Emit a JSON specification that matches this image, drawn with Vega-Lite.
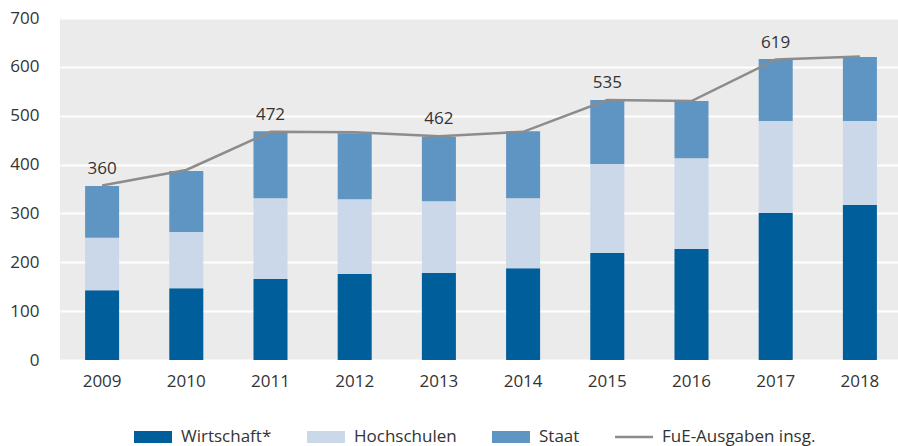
{
  "$schema": "https://vega.github.io/schema/vega-lite/v6.json",
  "width": 842,
  "height": 342,
  "autosize": {"type": "none"},
  "padding": {"left": 60, "top": 18, "right": 0, "bottom": 86},
  "background": "white",
  "config": {
    "view": {"fill": "#EBEBEB", "stroke": null},
    "font": "Open Sans",
    "axis": {"labelFont": "Open Sans", "labelFontSize": 17, "labelColor": "#333333", "domain": false, "ticks": false, "tickSize": 0, "title": null},
    "legend": {"labelFont": "Open Sans", "labelFontSize": 17, "labelColor": "#333333"}
  },
  "datasets": {
    "bars": [
      {"jahr": "2009", "sektor": "Wirtschaft*", "wert": 143},
      {"jahr": "2009", "sektor": "Hochschulen", "wert": 107},
      {"jahr": "2009", "sektor": "Staat", "wert": 106},
      {"jahr": "2010", "sektor": "Wirtschaft*", "wert": 147},
      {"jahr": "2010", "sektor": "Hochschulen", "wert": 115},
      {"jahr": "2010", "sektor": "Staat", "wert": 125},
      {"jahr": "2011", "sektor": "Wirtschaft*", "wert": 166},
      {"jahr": "2011", "sektor": "Hochschulen", "wert": 165},
      {"jahr": "2011", "sektor": "Staat", "wert": 137},
      {"jahr": "2012", "sektor": "Wirtschaft*", "wert": 176},
      {"jahr": "2012", "sektor": "Hochschulen", "wert": 153},
      {"jahr": "2012", "sektor": "Staat", "wert": 135},
      {"jahr": "2013", "sektor": "Wirtschaft*", "wert": 178},
      {"jahr": "2013", "sektor": "Hochschulen", "wert": 147},
      {"jahr": "2013", "sektor": "Staat", "wert": 132},
      {"jahr": "2014", "sektor": "Wirtschaft*", "wert": 188},
      {"jahr": "2014", "sektor": "Hochschulen", "wert": 143},
      {"jahr": "2014", "sektor": "Staat", "wert": 137},
      {"jahr": "2015", "sektor": "Wirtschaft*", "wert": 219},
      {"jahr": "2015", "sektor": "Hochschulen", "wert": 182},
      {"jahr": "2015", "sektor": "Staat", "wert": 131},
      {"jahr": "2016", "sektor": "Wirtschaft*", "wert": 227},
      {"jahr": "2016", "sektor": "Hochschulen", "wert": 186},
      {"jahr": "2016", "sektor": "Staat", "wert": 117},
      {"jahr": "2017", "sektor": "Wirtschaft*", "wert": 301},
      {"jahr": "2017", "sektor": "Hochschulen", "wert": 188},
      {"jahr": "2017", "sektor": "Staat", "wert": 127},
      {"jahr": "2018", "sektor": "Wirtschaft*", "wert": 317},
      {"jahr": "2018", "sektor": "Hochschulen", "wert": 172},
      {"jahr": "2018", "sektor": "Staat", "wert": 131}
    ],
    "total": [
      {"jahr": "2009", "gesamt": 357, "label": "360"},
      {"jahr": "2010", "gesamt": 389, "label": ""},
      {"jahr": "2011", "gesamt": 467, "label": "472"},
      {"jahr": "2012", "gesamt": 466, "label": ""},
      {"jahr": "2013", "gesamt": 458, "label": "462"},
      {"jahr": "2014", "gesamt": 467, "label": ""},
      {"jahr": "2015", "gesamt": 532, "label": "535"},
      {"jahr": "2016", "gesamt": 530, "label": ""},
      {"jahr": "2017", "gesamt": 615, "label": "619"},
      {"jahr": "2018", "gesamt": 621, "label": ""}
    ]
  },
  "encoding": {
    "x": {
      "field": "jahr", "type": "ordinal",
      "scale": {"paddingInner": 0.596, "paddingOuter": 0.298},
      "axis": {"labelAngle": 0, "labelPadding": 13, "grid": false}
    }
  },
  "layer": [
    {
      "data": {"name": "bars"},
      "transform": [{"calculate": "indexof(['Wirtschaft*','Hochschulen','Staat'], datum.sektor)", "as": "rang"}],
      "mark": {"type": "bar", "strokeWidth": 0},
      "encoding": {
        "y": {
          "field": "wert", "type": "quantitative", "stack": "zero",
          "scale": {"domain": [0, 700], "nice": false},
          "axis": {"values": [0, 100, 200, 300, 400, 500, 600, 700], "grid": true, "gridColor": "white", "gridWidth": 2, "labelPadding": 21}
        },
        "color": {
          "field": "sektor", "type": "nominal",
          "scale": {
            "domain": ["Wirtschaft*", "Hochschulen", "Staat", "FuE-Ausgaben insg."],
            "range": ["#005E9A", "#CBD8EA", "#5F95C3", "#8C8C8C"]
          },
          "legend": {
            "title": null,
            "orient": "none",
            "direction": "horizontal",
            "legendX": 74,
            "legendY": 400,
            "columns": 4,
            "columnPadding": 35,
            "padding": 0,
            "symbolSize": 1444,
            "labelOffset": 9,
            "encode": {
              "symbols": {
                "update": {
                  "shape": {"signal": "datum.value === 'FuE-Ausgaben insg.' ? 'M-1,-0.07H1V0.07H-1Z' : 'M-1,-0.316H1V0.316H-1Z'"},
                  "fill": {"scale": "color", "field": "value"},
                  "stroke": {"value": "transparent"},
                  "strokeWidth": {"value": 0},
                  "opacity": {"value": 1}
                }
              }
            }
          }
        },
        "order": {"field": "rang", "type": "quantitative"}
      }
    },
    {
      "data": {"name": "total"},
      "mark": {"type": "line", "strokeWidth": 2.5},
      "encoding": {
        "y": {"field": "gesamt", "type": "quantitative"},
        "color": {"datum": "FuE-Ausgaben insg.", "type": "nominal"}
      }
    },
    {
      "data": {"name": "total"},
      "mark": {"type": "text", "dy": -12, "baseline": "alphabetic", "fontSize": 17, "font": "Open Sans", "color": "#333333"},
      "encoding": {
        "y": {"field": "gesamt", "type": "quantitative"},
        "text": {"field": "label"}
      }
    }
  ]
}
